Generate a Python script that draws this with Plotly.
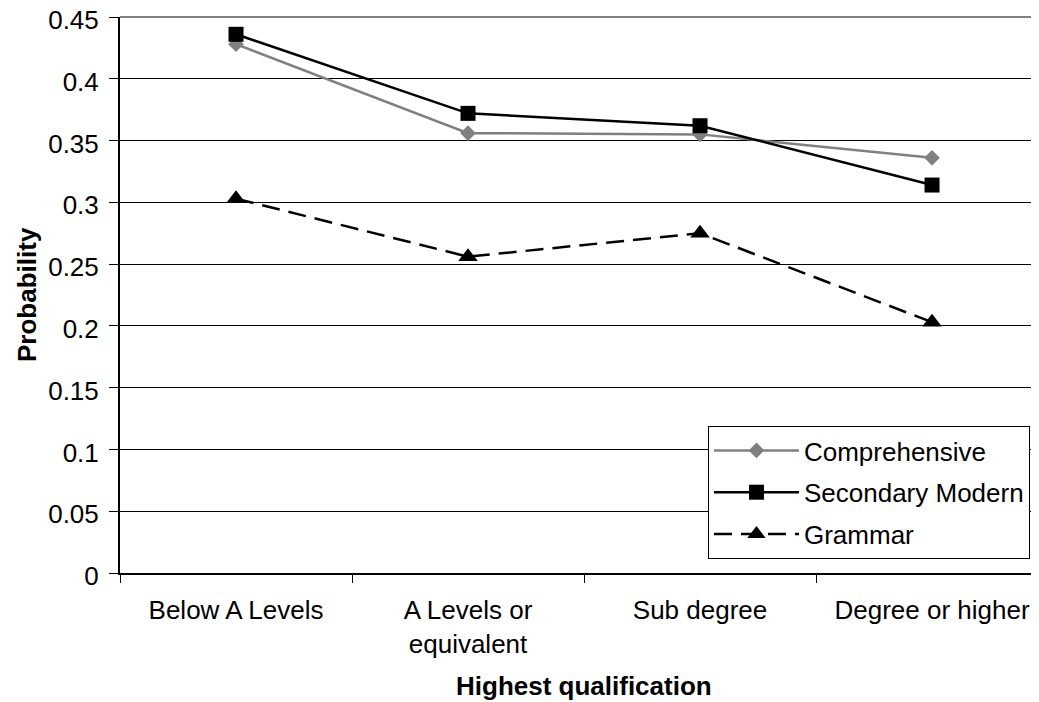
import plotly.graph_objects as go

categories = ["Below A Levels", "A Levels or<br>equivalent", "Sub degree", "Degree or higher"]
comprehensive = [0.428, 0.356, 0.355, 0.336]
secondary_modern = [0.436, 0.372, 0.362, 0.314]
grammar = [0.303, 0.256, 0.275, 0.203]
y_ticks = [0, 0.05, 0.1, 0.15, 0.2, 0.25, 0.3, 0.35, 0.4, 0.45]
y_tick_text = ["0", "0.05", "0.1", "0.15", "0.2", "0.25", "0.3", "0.35", "0.4", "0.45"]

FONT = "Liberation Sans, Arial, sans-serif"
FS = 26

fig = go.Figure()
fig.add_trace(go.Scatter(
    x=categories, y=comprehensive, name="Comprehensive", mode="lines+markers",
    line=dict(color="#808080", width=2.5),
    marker=dict(symbol="diamond", size=12, color="#808080"),
    legendgroup="a",
))
fig.add_trace(go.Scatter(
    x=categories, y=secondary_modern, name="Secondary Modern", mode="lines+markers",
    line=dict(color="#000000", width=2.5),
    marker=dict(symbol="square", size=15, color="#000000"),
    legendgroup="b",
))
fig.add_trace(go.Scatter(
    x=categories, y=grammar, name="Grammar", mode="lines+markers",
    line=dict(color="#000000", width=2.5, dash="18px,9px"),
    marker=dict(symbol="triangle-up", size=17, color="#000000"),
    legendgroup="c",
))

fig.update_layout(
    width=1031, height=694,
    margin=dict(l=112, r=0, t=9, b=129, autoexpand=False),
    paper_bgcolor="white", plot_bgcolor="white",
    font=dict(family=FONT, size=FS, color="black"),
    showlegend=True,
    legend=dict(
        x=0.6398, y=0.2644, xanchor="left", yanchor="top",
        bgcolor="white", bordercolor="black", borderwidth=1,
        font=dict(family=FONT, size=FS, color="black"),
        traceorder="grouped", tracegroupgap=5, itemwidth=85,
    ),
    xaxis=dict(
        type="category", categoryorder="array", categoryarray=categories,
        range=[-0.5, 3.461], automargin=False,
        showline=True, linecolor="black", linewidth=2,
        ticks="outside", tickson="boundaries", ticklen=8, tickcolor="black", tickwidth=1,
        showgrid=False, zeroline=False, ticklabelstandoff=13,
        tickfont=dict(family=FONT, size=FS, color="black"),
    ),
    yaxis=dict(
        range=[0, 0.45], tickmode="array", tickvals=y_ticks, ticktext=y_tick_text,
        automargin=False, ticklabeloverflow="allow", ticklabelshift=3,
        showline=True, linecolor="black", linewidth=2,
        ticks="outside", ticklen=9, tickcolor="black", tickwidth=1,
        showgrid=True, gridcolor="black", gridwidth=1, zeroline=False,
        ticklabelstandoff=5,
        tickfont=dict(family=FONT, size=FS, color="black"),
    ),
    shapes=[dict(type="line", xref="paper", yref="paper", x0=0, x1=1, y0=1, y1=1,
                 line=dict(color="#808080", width=2), layer="below")],
    annotations=[
        dict(text="<b>Probability</b>", xref="paper", yref="paper", x=0, y=0.5,
             xshift=-93, textangle=-90, showarrow=False, xanchor="center", yanchor="middle",
             font=dict(family=FONT, size=FS, color="black")),
        dict(text="<b>Highest qualification</b>", xref="paper", yref="paper",
             x=(584 - 120) / 919, y=0, yshift=-113, showarrow=False,
             xanchor="center", yanchor="middle",
             font=dict(family=FONT, size=FS, color="black")),
    ],
)

fig.write_html("out.html")
